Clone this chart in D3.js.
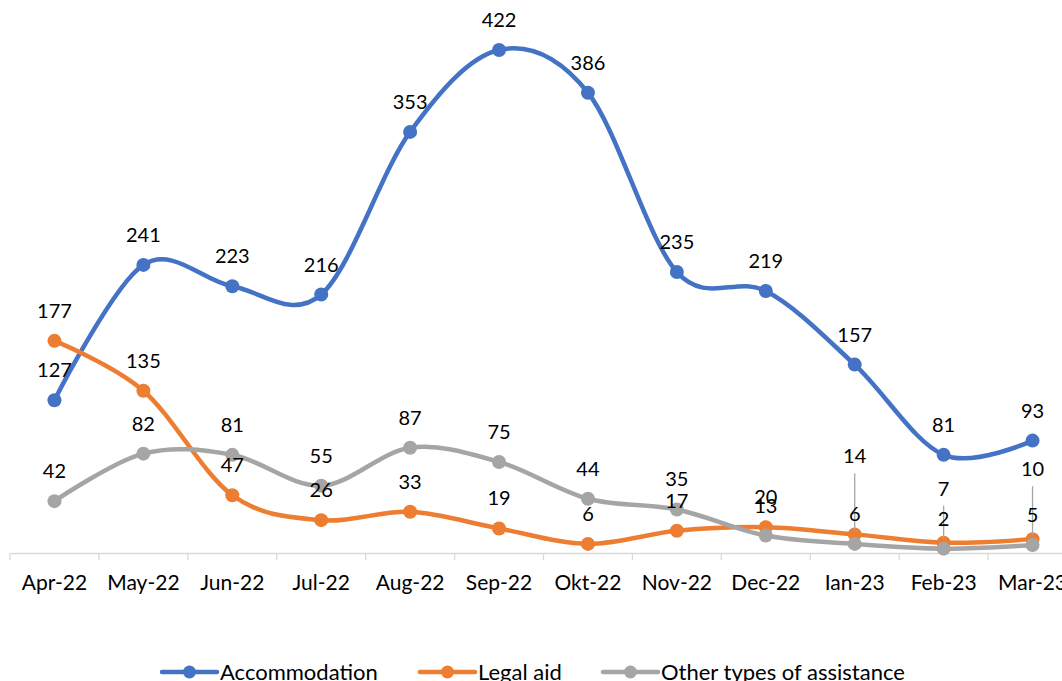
<!DOCTYPE html>
<html>
<head>
<meta charset="utf-8">
<script src="https://cdn.jsdelivr.net/npm/d3@7/dist/d3.min.js"></script>
<style>
  body { margin: 0; background: #fff; }
  svg { display: block; font-family: Lato, "Open Sans", sans-serif; }
</style>
</head>
<body>
<svg id="chart" width="1062" height="681"></svg>
<script>
// month categories on the x axis
var months = ["Apr-22", "May-22", "Jun-22", "Jul-22", "Aug-22", "Sep-22",
              "Okt-22", "Nov-22", "Dec-22", "Ian-23", "Feb-23", "Mar-23"];

// series values
var accommodation = [127, 241, 223, 216, 353, 422, 386, 235, 219, 157, 81, 93];
var legalAid      = [177, 135, 47, 26, 33, 19, 6, 17, 20, 14, 7, 10];
var otherHelp     = [42, 82, 81, 55, 87, 75, 44, 35, 13, 6, 2, 5];

var seriesNames  = ["Accommodation", "Legal aid", "Other types of assistance"];
var seriesColors = ["#4472C4", "#ED7D31", "#A5A5A5"];

(function(){
    var svg = d3.select("#chart");

    // plot area (the last category runs past the right edge, like the original)
    var left = 10, right = 1077, top = 50, bottom = 553;

    var x = d3.scaleBand().domain(months).range([left, right]);
    var y = d3.scaleLinear().domain([0, 422]).range([bottom - 2, top]);

    var cx = function(m) { return x(m) + x.bandwidth() / 2; };

    // axis baseline with tick marks between categories
    var axis = d3.axisBottom(x).tickSize(0).tickPadding(22);
    var gx = svg.append("g").attr("transform", "translate(0," + bottom + ")").call(axis);
    gx.select(".domain").attr("stroke", "#d9d9d9").attr("stroke-width", 1.3);
    gx.selectAll("text").attr("font-size", 21).attr("fill", "#000")
        .attr("font-family", "Lato, 'Open Sans', sans-serif");

    var bounds = months.map(function(m) { return x(m); }).concat([right]);
    svg.append("g").selectAll("line")
        .data(bounds)
        .enter().append("line")
        .attr("x1", function(d) { return d; })
        .attr("x2", function(d) { return d; })
        .attr("y1", bottom)
        .attr("y2", bottom + 7)
        .attr("stroke", "#d9d9d9")
        .attr("stroke-width", 1.3);

    var allSeries = [accommodation, legalAid, otherHelp];

    var line = d3.line()
        .x(function(d, i) { return cx(months[i]); })
        .y(function(d) { return y(d); })
        .curve(d3.curveCardinal.tension(0));

    // lines, drawn in order so gray sits on top
    allSeries.forEach(function(vals, s) {
        svg.append("path")
            .datum(vals)
            .attr("d", line)
            .attr("fill", "none")
            .attr("stroke", seriesColors[s])
            .attr("stroke-width", 4.5)
            .attr("stroke-linecap", "round");

        svg.append("g").selectAll("circle")
            .data(vals)
            .enter().append("circle")
            .attr("cx", function(d, i) { return cx(months[i]); })
            .attr("cy", function(d) { return y(d); })
            .attr("r", 7)
            .attr("fill", seriesColors[s]);
    });

    // labels that Excel nudged up and tied back with a leader line
    var liftedLabels = { "1-9": 48, "1-10": 24, "1-11": 40 };

    allSeries.forEach(function(vals, s) {
        vals.forEach(function(v, i) {
            var px = cx(months[i]), py = y(v);
            var lift = liftedLabels[s + "-" + i] || 0;
            var ty = py - 23 - lift;
            if (lift) {
                svg.append("line")
                    .attr("x1", px).attr("x2", px)
                    .attr("y1", ty + 10).attr("y2", py - 4)
                    .attr("stroke", "#a6a6a6")
                    .attr("stroke-width", 1.3);
            }
            svg.append("text")
                .attr("x", px)
                .attr("y", ty)
                .attr("text-anchor", "middle")
                .attr("font-size", 20)
                .attr("fill", "#000")
                .text(v);
        });
    });

    // legend along the bottom
    var legendX = [162, 420, 603];
    var legend = svg.append("g").selectAll("g")
        .data(seriesNames)
        .enter().append("g")
        .attr("transform", function(d, i) { return "translate(" + legendX[i] + ",672)"; });
    legend.append("line")
        .attr("x1", 0).attr("x2", 55)
        .attr("stroke", function(d, i) { return seriesColors[i]; })
        .attr("stroke-width", 4.5)
        .attr("stroke-linecap", "round");
    legend.append("circle")
        .attr("cx", 27.5).attr("r", 6.5)
        .attr("fill", function(d, i) { return seriesColors[i]; });
    legend.append("text")
        .attr("x", 58).attr("y", 8)
        .attr("font-size", 22)
        .attr("fill", "#000")
        .text(function(d) { return d; });
})();
</script>
</body>
</html>
